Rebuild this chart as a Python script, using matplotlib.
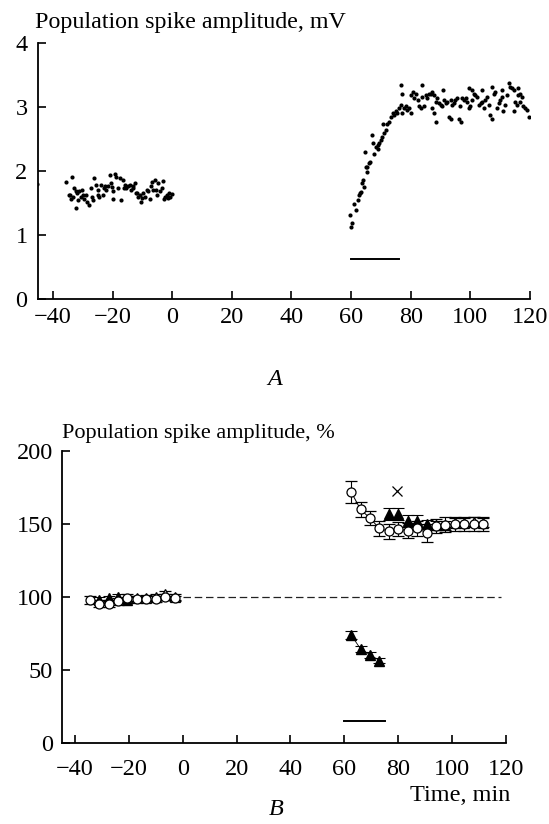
import matplotlib
matplotlib.use("Agg")
import matplotlib.pyplot as plt

plt.rcParams['font.family'] = ['Liberation Serif', 'DejaVu Serif']
plt.rcParams['axes.unicode_minus'] = True

# ---------------- Panel A data (mV) ----------------
a_pre_t = [-45.2, -35.5, -34.6, -34.3, -34.0, -33.7, -33.2, -32.9, -32.3, -32.3, -31.8, -31.5, -31.2,
           -30.6, -30.1, -29.8, -29.5, -28.9, -28.4, -27.8, -27.2, -27.0, -26.7, -26.1, -25.5,
           -25.0, -24.9, -24.4, -23.8, -23.3, -22.7, -22.4, -22.1, -21.6, -21.0, -20.5, -20.2,
           -19.9, -19.7, -19.3, -18.8, -18.2, -17.6, -17.1, -16.5, -16.0, -15.9, -15.4, -14.8,
           -14.2, -13.7, -13.3, -13.1, -12.5, -12.0, -11.7, -11.4, -10.8, -10.3, -10.0, -9.7,
           -9.2, -8.6, -8.0, -7.5, -7.2, -6.9, -6.3, -5.8, -5.5, -5.2, -4.6, -4.1, -3.5, -3.2,
           -2.9, -2.4, -1.8, -1.5, -1.2, -0.7, -0.1]
a_pre_v = [1.80, 1.83, 1.63, 1.62, 1.57, 1.91, 1.60, 1.73, 1.68, 1.42, 1.65, 1.55, 1.68,
           1.60, 1.70, 1.63, 1.57, 1.63, 1.52, 1.47, 1.73, 1.60, 1.55, 1.89, 1.78,
           1.70, 1.62, 1.60, 1.78, 1.63, 1.73, 1.77, 1.70, 1.76, 1.94, 1.81, 1.75,
           1.68, 1.57, 1.96, 1.91, 1.73, 1.89, 1.55, 1.86, 1.74, 1.78, 1.73, 1.76,
           1.78, 1.70, 1.77, 1.73, 1.81, 1.65, 1.65, 1.60, 1.63, 1.52, 1.58, 1.65,
           1.60, 1.70, 1.68, 1.57, 1.77, 1.83, 1.70, 1.86, 1.71, 1.63, 1.81, 1.68, 1.73, 1.84,
           1.57, 1.60, 1.63, 1.58, 1.65, 1.60, 1.64]

a_post_t = [59.8, 60.0, 60.3, 61.1, 61.6, 62.2, 62.7, 63.0, 63.3, 63.6, 63.9, 64.4, 64.7, 65.0,
            65.2, 65.5, 66.1, 66.3, 67.0, 67.2, 67.7, 68.3, 68.9, 68.9, 69.4, 70.0, 70.5, 70.7,
            71.1, 71.6, 72.2, 72.7, 73.3, 73.9, 74.4, 75.0, 75.5, 76.1, 76.6, 76.6,
            77.2, 77.8, 77.2, 78.4, 78.9, 79.5, 80.0, 80.0, 80.6, 81.1, 81.7, 82.3, 82.8, 83.4,
            83.9, 83.9, 84.5, 85.0, 85.6, 86.1, 86.7, 87.3, 87.8, 87.3, 87.8, 88.4, 88.9, 89.5,
            88.4, 90.0, 90.6, 90.9, 91.1, 91.7, 92.3, 92.8, 93.4, 93.4, 93.9, 94.5, 95.0, 95.6,
            96.1, 96.5, 96.7, 97.3, 97.8, 98.4, 98.9, 99.5, 99.5, 100.0, 100.6, 100.6, 101.1,
            101.7, 102.3, 102.8, 103.4, 103.9, 103.9, 104.5, 105.0, 105.6, 106.1, 106.7, 107.3,
            107.3, 107.8, 108.4, 108.9, 109.5, 110.0, 110.6, 110.6, 111.1, 111.7, 112.3, 112.8,
            113.4, 113.9, 114.5, 114.5, 115.0, 115.6, 116.1, 116.1, 116.7, 117.3, 117.8, 118.4,
            118.9, 119.5, 116.7]
a_post_v = [1.31, 1.13, 1.18, 1.49, 1.39, 1.55, 1.62, 1.65, 1.67, 1.81, 1.86, 1.75, 2.30, 2.06,
            1.99, 2.07, 2.12, 2.14, 2.56, 2.43, 2.27, 2.38, 2.40, 2.35, 2.43, 2.48, 2.53, 2.74,
            2.59, 2.64, 2.74, 2.77, 2.85, 2.90, 2.87, 2.93, 2.90, 2.98, 3.03, 3.34,
            3.21, 2.98, 2.90, 3.01, 2.95, 2.98, 2.90, 3.19, 3.24, 3.14, 3.21, 3.11, 3.01, 2.98,
            3.34, 3.16, 3.01, 3.19, 3.14, 3.21, 3.21, 3.24, 3.19, 2.98, 2.90, 3.08, 3.14, 3.06,
            2.77, 3.03, 3.01, 3.27, 3.11, 3.06, 3.08, 2.85, 2.82, 3.11, 3.03, 3.06, 3.11, 3.14,
            2.82, 3.01, 2.77, 3.14, 3.11, 3.14, 3.08, 3.29, 2.98, 3.01, 3.27, 3.11, 3.21,
            3.19, 3.16, 3.03, 3.06, 3.27, 3.08, 2.98, 3.11, 3.16, 3.03, 2.88, 3.32,
            2.82, 3.21, 3.24, 2.98, 3.06, 3.11, 3.16, 3.27, 2.93, 3.03, 3.19, 3.37,
            3.32, 3.29, 3.27, 2.93, 3.08, 3.03, 3.29, 3.19, 3.21, 3.16, 3.01, 2.98,
            2.95, 2.85, 3.08]

a_bar_t = [60, 76]
a_bar_v = 0.62

# ---------------- Panel B data (%) ----------------
b_pre_t = [-34.5, -31, -27.5, -24, -20.5, -17, -13.5, -10, -6.5, -3]
b_pre_circ = [98, 95.5, 95.5, 97, 99.5, 98.5, 98.5, 98.5, 100, 99]
b_pre_circ_err = [2.5, 2.5, 2.5, 2.5, 2.5, 2, 2, 2, 2, 2]
b_pre_ftri_t = [-31, -27.5, -24, -20.5]
b_pre_ftri = [98, 99, 100, 98]
b_pre_otri_t = [-17, -13.5, -10, -6.5, -3]
b_pre_otri = [99, 99.5, 100, 102, 100]

b_post_t = [62.5, 66, 69.5, 73, 76.5, 80, 83.5, 87, 90.5, 94, 97.5, 101, 104.5, 108, 111.5]
b_post_circ = [172, 160, 154, 147, 145, 146.5, 145.5, 147, 144, 148.5, 149.5, 150, 150, 150, 150]
b_post_circ_err = [7.5, 5, 5, 5, 5, 5, 5, 5, 6, 5, 5, 5, 5, 5, 5]

b_post_ftri_t = [76.5, 80, 83.5, 87, 90.5, 94, 97.5]
b_post_ftri = [157, 157, 152, 152, 150, 149, 149]
b_post_ftri_err = [4, 4, 4, 4, 3, 3, 3]

b_post_otri_t = [101, 104.5, 108, 111.5]
b_post_otri = [151, 151, 151.5, 151]
b_post_otri_err = [3, 3, 3, 3]

b_dep_t = [62.5, 66, 69.5, 73]
b_dep = [74, 64.5, 60.5, 56.5]
b_dep_err = [2.5, 2, 2, 2]

b_cross_t = [79.5]
b_cross = [172.5]

b_base_t = [0, 118]
b_base_v = 100
b_bar_t = [60, 75]
b_bar_v = 15

xticks = [-40, -20, 0, 20, 40, 60, 80, 100, 120]
a_yticks = [0, 1, 2, 3, 4]
b_yticks = [0, 50, 100, 150, 200]

W, H = 549, 824
fig = plt.figure(figsize=(W / 100, H / 100), dpi=100)


def style(ax, ypad, xpad):
    for s in ['top', 'right']:
        ax.spines[s].set_visible(False)
    for s in ['left', 'bottom']:
        ax.spines[s].set_linewidth(1.3)
    ax.tick_params(direction='in', length=6, width=1.2, labelsize=17.5)
    ax.tick_params(axis='y', pad=ypad)
    ax.tick_params(axis='x', pad=xpad)


# Panel A
axA = fig.add_axes([38 / W, 1 - 299 / H, (530 - 38) / W, (299 - 43) / H])
axA.plot(a_pre_t, a_pre_v, 'o', ms=3.0, color='black', mew=0)
axA.plot(a_post_t, a_post_v, 'o', ms=3.0, color='black', mew=0)
axA.plot(a_bar_t, [a_bar_v, a_bar_v], color='black', lw=1.4)
axA.set_xlim(-45, 120)
axA.set_ylim(0, 4)
axA.set_xticks(xticks)
axA.set_yticks(a_yticks)
style(axA, 7.5, 5.5)

# Panel B
axB = fig.add_axes([62 / W, 1 - 743 / H, (506 - 62) / W, (743 - 451) / H])
axB.plot(b_base_t, [b_base_v, b_base_v], color='#222222', lw=0.9, ls=(0, (6, 3)))
ekw = dict(ecolor='black', elinewidth=0.8, capsize=4, capthick=0.8)
axB.errorbar(b_pre_ftri_t, b_pre_ftri, yerr=2, fmt='^', ms=6.5, mfc='black', mec='black', **ekw)
axB.errorbar(b_post_ftri_t, b_post_ftri, yerr=b_post_ftri_err, fmt='^', ms=6.5,
             mfc='black', mec='black', **ekw)
axB.errorbar(b_dep_t, b_dep, yerr=b_dep_err, fmt='^-', ms=6.5, mfc='black', mec='black',
             color='black', lw=0.6, **ekw)
axB.errorbar(b_pre_otri_t, b_pre_otri, yerr=2, fmt='^', ms=6.5, mfc='white', mec='black',
             mew=0.9, **ekw)
axB.errorbar(b_post_otri_t, b_post_otri, yerr=b_post_otri_err, fmt='^', ms=6.5, mfc='white',
             mec='black', mew=0.9, **ekw)
axB.errorbar(b_pre_t, b_pre_circ, yerr=b_pre_circ_err, fmt='o', ms=6.5, mfc='white',
             mec='black', mew=0.9, **ekw)
axB.errorbar(b_post_t, b_post_circ, yerr=b_post_circ_err, fmt='o-', ms=6.5, mfc='white',
             mec='black', mew=0.9, color='black', lw=0.7, **ekw)
axB.plot(b_cross_t, b_cross, 'x', ms=7, mew=0.9, color='black')
axB.plot(b_bar_t, [b_bar_v, b_bar_v], color='black', lw=1.4)
axB.set_xlim(-44.8, 120)
axB.set_ylim(0, 200)
axB.set_xticks(xticks)
axB.set_yticks(b_yticks)
style(axB, 6.5, 11.5)

# Texts
fig.text(35 / W, 1 - 28 / H, 'Population spike amplitude, mV', fontsize=17.3, va='baseline', ha='left')
fig.text(275 / W, 1 - 385 / H, 'A', fontsize=17.5, style='italic', ha='center', va='baseline')
fig.text(62 / W, 1 - 438 / H, 'Population spike amplitude, %', fontsize=16, va='baseline', ha='left')
fig.text(510 / W, 1 - 801 / H, 'Time, min', fontsize=17.5, ha='right', va='baseline')
fig.text(276 / W, 1 - 815 / H, 'B', fontsize=17.5, style='italic', ha='center', va='baseline')

fig.savefig('out.png', dpi=100)
